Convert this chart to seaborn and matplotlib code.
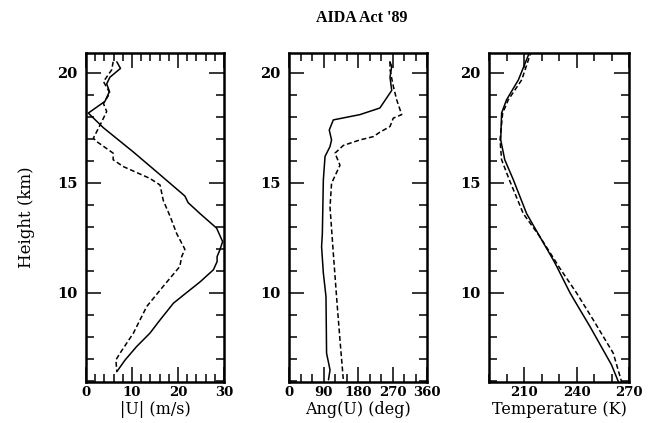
import numpy as np
import pandas as pd
import matplotlib
matplotlib.use("Agg")
import matplotlib.pyplot as plt
import seaborn as sns
from matplotlib.ticker import MultipleLocator, FixedLocator

# ---------------- data ----------------
# Panel 1: |U| (m/s) vs height (km)
u_solid_h = [20.5, 20.2, 19.8, 19.5, 19.15, 18.7, 18.17, 17.5, 16.4, 15.44, 14.4, 14.1,
             13.6, 12.94, 12.33, 11.95, 11.65, 11.42, 11.05, 10.5, 9.9, 9.53, 8.77,
             8.17, 7.56, 6.95, 6.42]
u_solid = [6.7, 7.5, 5.2, 4.5, 5.1, 4.1, 0.5, 3.8, 10.3, 15.7, 21.5, 22.2,
           24.8, 28.4, 29.7, 29.1, 28.5, 28.5, 27.7, 24.8, 21.2, 19.0, 16.1,
           13.9, 11.0, 8.5, 6.7]
u_dash_h = [20.5, 20.14, 19.6, 19.08, 18.6, 18.24, 17.56, 17.03, 16.88, 16.35, 16.05,
            15.74, 15.2, 14.9, 14.2, 13.47, 12.7, 11.98, 11.65, 11.2, 10.3, 9.38,
            8.17, 7.26, 6.95, 6.42]
u_dash = [5.9, 5.6, 3.8, 5.2, 3.8, 4.5, 2.9, 1.6, 2.3, 5.9, 5.9,
          8.1, 13.9, 16.1, 16.8, 18.3, 19.7, 21.5, 20.8, 20.4, 16.8, 13.2,
          10.3, 7.4, 6.5, 6.7]

# Panel 2: Ang(U) (deg) vs height
a_solid_h = [20.5, 20.3, 19.8, 19.2, 18.4, 18.1, 17.86, 17.4, 16.95, 16.65, 16.2,
             15.14, 12.7, 12.1, 10.9, 9.83, 7.26, 6.5, 6.05]
a_solid = [263, 268, 263.5, 268, 237, 185, 115.6, 105, 111, 107, 94,
           89.6, 87, 85, 89.6, 96.5, 98, 107, 103]
a_dash_h = [20.5, 20.14, 19.4, 18.77, 18.1, 17.94, 17.56, 17.3, 17.1, 16.95, 16.8,
            16.7, 16.35, 15.8, 14.98, 13.9, 11.8, 9.38, 7.86, 6.05]
a_dash = [263.5, 263.5, 272, 281, 294, 272, 263.5, 237, 220, 185, 159,
          141.7, 120, 133, 111, 107, 115.6, 126, 133, 141.7]

# Panel 3: Temperature (K) vs height
t_solid_h = [21.0, 20.8, 19.68, 18.77, 18.17, 16.95, 16.05, 15.14, 13.6, 12.56,
             11.5, 11.2, 10.0, 9.23, 8.47, 6.73, 5.95]
t_solid = [213.2, 212.5, 206.8, 200, 197.2, 196.7, 199, 203.9, 211.5, 219,
           226.7, 228.7, 236.3, 242, 247.7, 260, 264]
t_dash_h = [21.0, 20.8, 19.68, 18.77, 18.17, 16.95, 16.05, 15.14, 13.6, 12.56,
            11.5, 11.2, 10.0, 8.77, 7.26, 5.95]
t_dash = [214, 213.4, 208.7, 201, 197.8, 196.3, 197.2, 201.6, 209.6, 219,
          227.5, 229.8, 240, 249.6, 261, 265.8]

title = "AIDA Act '89"
ylabel = "Height (km)"
xlabels = ["|U| (m/s)", "Ang(U) (deg)", "Temperature (K)"]


def frame(xs, hs, xd, hd):
    return pd.DataFrame({
        "x": list(xs) + list(xd),
        "h": list(hs) + list(hd),
        "kind": ["solid"] * len(xs) + ["dashed"] * len(xd),
    })


sns.set_theme(style="ticks")
plt.rcParams["font.family"] = ["DejaVu Serif"]

fig = plt.figure(figsize=(6.55, 4.23), dpi=100)
W, H = 655, 423
boxes = [(86, 224), (289, 427), (489, 629)]
top_px, bot_px = 53, 382

dfs = [frame(u_solid, u_solid_h, u_dash, u_dash_h),
       frame(a_solid, a_solid_h, a_dash, a_dash_h),
       frame(t_solid, t_solid_h, t_dash, t_dash_h)]
xlims = [(0, 30), (0, 360), (190, 270)]
xmajor = [[0, 10, 20, 30], [0, 90, 180, 270, 360], [210, 240, 270]]
xminor = [2, 30, 10]

for i, (l, r) in enumerate(boxes):
    ax = fig.add_axes([l / W, (H - bot_px) / H, (r - l) / W, (bot_px - top_px) / H])
    sns.lineplot(data=dfs[i], x="x", y="h", style="kind",
                 dashes={"solid": "", "dashed": (3.2, 1.8)},
                 style_order=["solid", "dashed"],
                 color="black", linewidth=1.1, sort=False, estimator=None,
                 legend=False, ax=ax)
    ax.set_xlim(*xlims[i])
    ax.set_ylim(5.95, 20.9)
    ax.xaxis.set_major_locator(FixedLocator(xmajor[i]))
    ax.xaxis.set_minor_locator(MultipleLocator(xminor[i]))
    ax.yaxis.set_major_locator(FixedLocator([10, 15, 20]))
    ax.yaxis.set_minor_locator(MultipleLocator(1))
    ax.tick_params(which="both", direction="in", top=True, right=True,
                   color="black", labelcolor="black")
    ax.tick_params(axis="x", which="major", labelsize=9.5, pad=3)
    ax.tick_params(axis="y", which="major", labelsize=10.5, pad=6)
    ax.tick_params(which="major", length=11, width=1.1)
    ax.tick_params(which="minor", length=5.5, width=1.1)
    for lab in ax.get_xticklabels() + ax.get_yticklabels():
        lab.set_fontweight("bold")
    for sp in ax.spines.values():
        sp.set_linewidth(1.8)
        sp.set_color("black")
    ax.set_xlabel(xlabels[i], fontsize=11.5, labelpad=1, color="black")
    ax.set_ylabel("")
    ax.set_facecolor("white")
    if i == 0:
        ax.set_ylabel(ylabel, fontsize=12, labelpad=16, color="black")

fig.text(362 / W, 1 - 18 / H, title, ha="center", va="center",
         fontsize=11.5, fontweight="bold", color="black",
         family=["Liberation Serif", "DejaVu Serif"])

fig.savefig("out.png", dpi=100, facecolor="white")
